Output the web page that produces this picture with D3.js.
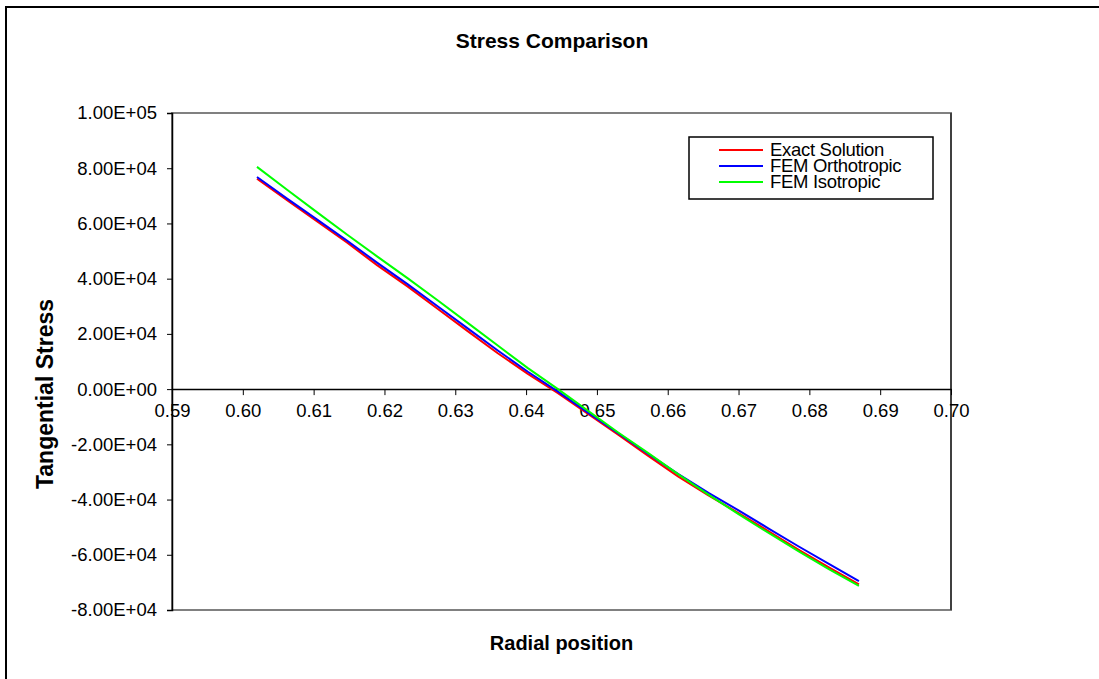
<!DOCTYPE html>
<html>
<head>
<meta charset="utf-8">
<script src="https://cdn.jsdelivr.net/npm/d3@7"></script>
<style>
  body { margin: 0; background: #fff; }
  svg { display: block; font-family: "Liberation Sans", Arial, sans-serif; }
</style>
</head>
<body>
<svg id="chart" width="1099" height="679"></svg>
<script>
// radial positions of the plotted nodes
const radialPos = [0.602, 0.60625, 0.6105, 0.61475, 0.619, 0.62325, 0.6275, 0.63175, 0.636, 0.64025,
    0.6445, 0.64875, 0.653, 0.65725, 0.6615, 0.66575, 0.67, 0.67425, 0.6785, 0.68275, 0.687];

const exactSolution = [76200, 68400, 60700, 53000, 44800, 37200, 29100, 21000, 13000, 5500,
    -1500, -9000, -16500, -24200, -31700, -38500, -44900, -51500, -58200, -64600, -70700];
const femOrthotropic = [76800, 69000, 61400, 53700, 45700, 38000, 30000, 22000, 14000, 6300,
    -900, -8500, -16000, -23500, -30800, -37600, -43900, -50500, -57000, -63300, -69500];
const femIsotropic = [80500, 72200, 64000, 55900, 48000, 40200, 32200, 24000, 15800, 7600,
    0, -7900, -15700, -23200, -30900, -38200, -45300, -52100, -58800, -65200, -71300];

const seriesNames = ['Exact Solution', 'FEM Orthotropic', 'FEM Isotropic'];
const seriesColors = ['#ff0000', '#0000ff', '#00ff00'];

const xTicks = [0.59, 0.60, 0.61, 0.62, 0.63, 0.64, 0.65, 0.66, 0.67, 0.68, 0.69, 0.70];
const yTicks = [-80000, -60000, -40000, -20000, 0, 20000, 40000, 60000, 80000, 100000];

const svg = d3.select('#chart');
const plot = { left: 172, top: 113, right: 951, bottom: 610 };

const x = d3.scaleLinear().domain([0.59, 0.70]).range([plot.left, plot.right]);
const y = d3.scaleLinear().domain([-80000, 100000]).range([plot.bottom, plot.top]);

// excel style scientific labels, e.g. 8.00E+04
function sci(v) {
    if (v === 0) return '0.00E+00';
    const e = Math.floor(Math.log10(Math.abs(v)));
    const m = v / Math.pow(10, e);
    return m.toFixed(2) + 'E' + (e < 0 ? '-' : '+') + String(Math.abs(e)).padStart(2, '0');
}

svg.append('rect').attr('width', 1099).attr('height', 679).attr('fill', '#fff');

// outer chart frame
svg.append('rect')
    .attr('x', 6).attr('y', 7).attr('width', 1200).attr('height', 800)
    .attr('fill', 'none').attr('stroke', '#000').attr('stroke-width', 2);

// plot area border
svg.append('rect')
    .attr('x', plot.left).attr('y', plot.top)
    .attr('width', plot.right - plot.left).attr('height', plot.bottom - plot.top)
    .attr('fill', 'none').attr('stroke', '#808080').attr('stroke-width', 2);
svg.append('line')
    .attr('x1', plot.right).attr('x2', plot.right).attr('y1', plot.top).attr('y2', plot.bottom)
    .attr('stroke', '#404040').attr('stroke-width', 2);

// Y axis
const yAxis = d3.axisLeft(y).tickValues(yTicks).tickFormat(sci).tickSize(5).tickPadding(10);
const gy = svg.append('g').attr('transform', `translate(${plot.left},0)`).call(yAxis);
gy.select('.domain').attr('stroke', '#000').attr('stroke-width', 1.5);
gy.selectAll('.tick line').attr('stroke', '#000');
gy.selectAll('.tick text').attr('font-size', 18.5).attr('fill', '#000')
    .attr('font-family', '"Liberation Sans", Arial, sans-serif');

// X axis crosses at y = 0
const xAxis = d3.axisBottom(x).tickValues(xTicks).tickFormat(d3.format('.2f')).tickSize(6).tickPadding(9).tickSizeOuter(0);
const gx = svg.append('g').attr('transform', `translate(0,${y(0)})`).call(xAxis);
gx.select('.domain').attr('stroke', '#000').attr('stroke-width', 1.5);
gx.selectAll('.tick line').attr('stroke', '#000');
gx.selectAll('.tick text').attr('font-size', 18.5).attr('fill', '#000')
    .attr('font-family', '"Liberation Sans", Arial, sans-serif');

// series lines
const allSeries = [exactSolution, femOrthotropic, femIsotropic];
const line = d3.line().x((d, i) => x(radialPos[i])).y(d => y(d));
allSeries.forEach((vals, k) => {
    svg.append('path')
        .datum(vals)
        .attr('d', line)
        .attr('fill', 'none')
        .attr('stroke', seriesColors[k])
        .attr('stroke-width', 2)
        .attr('stroke-linejoin', 'round');
});

// titles
svg.append('text')
    .attr('x', 552).attr('y', 48)
    .attr('text-anchor', 'middle').attr('font-size', 21).attr('font-weight', 'bold')
    .text('Stress Comparison');

svg.append('text')
    .attr('x', (plot.left + plot.right) / 2).attr('y', 650)
    .attr('text-anchor', 'middle').attr('font-size', 20).attr('font-weight', 'bold')
    .text('Radial position');

svg.append('text')
    .attr('transform', 'translate(53,394) rotate(-90)')
    .attr('text-anchor', 'middle').attr('font-size', 23).attr('font-weight', 'bold')
    .text('Tangential Stress');

// legend
const lg = svg.append('g').attr('transform', 'translate(689,137)');
lg.append('rect').attr('width', 244).attr('height', 62)
    .attr('fill', '#fff').attr('stroke', '#000').attr('stroke-width', 1.5);
seriesNames.forEach((name, i) => {
    const ry = 13 + i * 16;
    lg.append('line').attr('x1', 30).attr('x2', 74).attr('y1', ry).attr('y2', ry)
        .attr('stroke', seriesColors[i]).attr('stroke-width', 2);
    lg.append('text').attr('x', 81).attr('y', ry + 6).attr('font-size', 18.5)
        .attr('letter-spacing', -0.3).text(name);
});
</script>
</body>
</html>
